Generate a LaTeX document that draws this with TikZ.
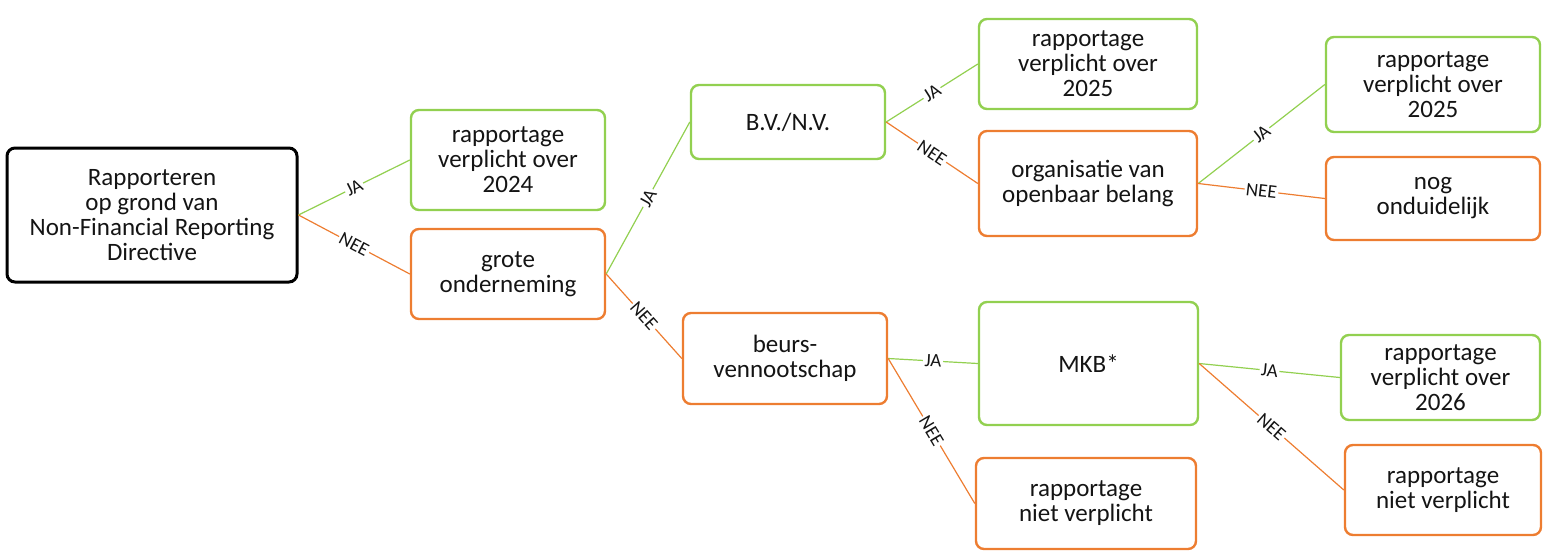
\documentclass[tikz,border=0pt]{standalone}
\usepackage{fontspec}
\setmainfont{Carlito}
\definecolor{grn}{RGB}{146,208,80}
\definecolor{org}{RGB}{237,125,49}
\definecolor{txt}{RGB}{20,20,20}
\begin{document}
\begin{tikzpicture}[x=1pt,y=-1pt,
  box/.style={draw, rounded corners=8pt, line width=2.4pt, align=center, inner sep=2pt,
    font=\fontsize{25}{25}\selectfont, text=txt},
  gbox/.style={box, draw=grn},
  obox/.style={box, draw=org},
  kbox/.style={box, draw=black, line width=3pt},
  conn/.style={line width=1.2pt},
  gconn/.style={conn, draw=grn},
  oconn/.style={conn, draw=org},
  lab/.style={midway, sloped, fill=white, inner sep=1.5pt, font=\fontsize{19}{20}\selectfont, text=txt}]
\useasboundingbox (0,0) rectangle (1547,557);
\node[kbox, minimum width=290, minimum height=134] (root) at (152,215) {Rapporteren\\op grond van\\Non-Financial Reporting\\Directive};
\node[gbox, minimum width=194, minimum height=100] (r2024) at (508,160) {rapportage\\verplicht over\\2024};
\node[obox, minimum width=194, minimum height=90] (grote) at (508,274) {grote\\onderneming};
\node[gbox, minimum width=194, minimum height=74] (bvnv) at (788,122) {B.V./N.V.};
\node[gbox, minimum width=218, minimum height=90] (r2025a) at (1088,64) {rapportage\\verplicht over\\2025};
\node[obox, minimum width=218, minimum height=105] (ovb) at (1088,183.5) {organisatie van\\openbaar belang};
\node[gbox, minimum width=214, minimum height=95] (r2025b) at (1433,84.5) {rapportage\\verplicht over\\2025};
\node[obox, minimum width=214, minimum height=83] (nog) at (1433,198.5) {nog\\onduidelijk};
\node[obox, minimum width=204, minimum height=91] (beurs) at (785,358.5) {beurs-\\vennootschap};
\node[gbox, minimum width=219, minimum height=123] (mkb) at (1088.5,363.5) {MKB*};
\node[obox, minimum width=220, minimum height=91] (rnv1) at (1086,503.5) {rapportage\\niet verplicht};
\node[gbox, minimum width=199, minimum height=85] (r2026) at (1440.5,377.5) {rapportage\\verplicht over\\2026};
\node[obox, minimum width=196, minimum height=90] (rnv2) at (1443,490) {rapportage\\niet verplicht};

\draw[gconn] (root.east) -- node[lab]{JA} (r2024.west);
\draw[oconn] (root.east) -- node[lab]{NEE} (grote.west);
\draw[gconn] (grote.east) -- node[lab]{JA} (bvnv.west);
\draw[oconn] (grote.east) -- node[lab]{NEE} (beurs.west);
\draw[gconn] (bvnv.east) -- node[lab]{JA} (r2025a.west);
\draw[oconn] (bvnv.east) -- node[lab]{NEE} (ovb.west);
\draw[gconn] (ovb.east) -- node[lab]{JA} (r2025b.west);
\draw[oconn] (ovb.east) -- node[lab]{NEE} (nog.west);
\draw[gconn] (beurs.east) -- node[lab]{JA} (mkb.west);
\draw[oconn] (beurs.east) -- node[lab]{NEE} (rnv1.west);
\draw[gconn] (mkb.east) -- node[lab]{JA} (r2026.west);
\draw[oconn] (mkb.east) -- node[lab]{NEE} (rnv2.west);
\end{tikzpicture}
\end{document}
